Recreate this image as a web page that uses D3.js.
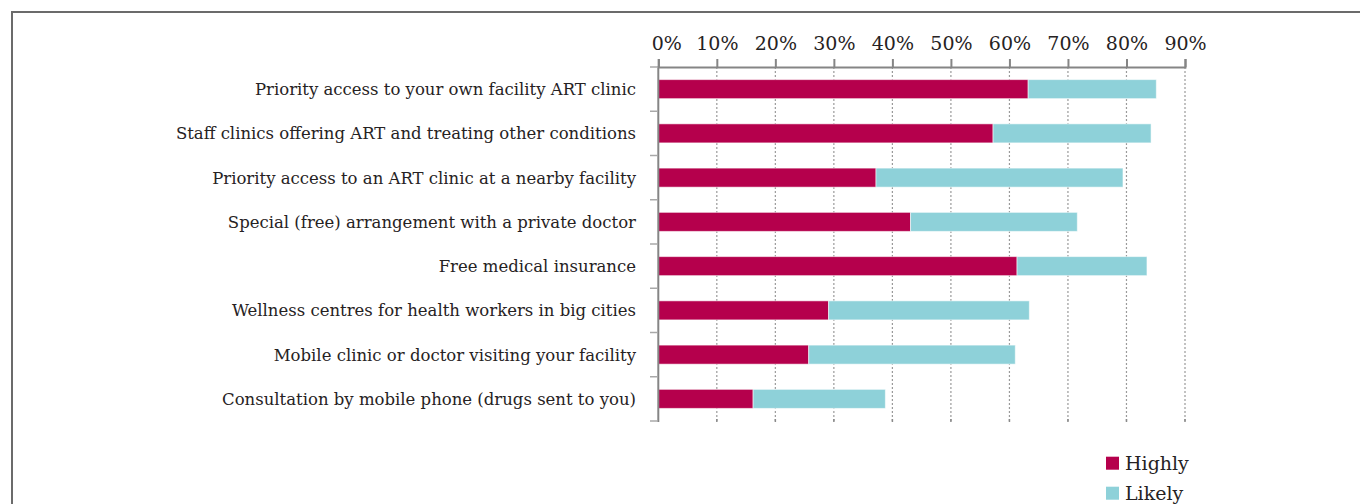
<!DOCTYPE html>
<html>
<head>
<meta charset="utf-8">
<script src="https://cdn.jsdelivr.net/npm/d3@7"></script>
<style>
  html, body { margin: 0; padding: 0; background: #fff; }
  svg { display: block; }
  text { font-family: "DejaVu Serif", serif; fill: #262223; }
</style>
</head>
<body>
<svg id="chart" width="1360" height="504"></svg>
<script>
const categories = [
  "Priority access to your own facility ART clinic",
  "Staff clinics offering ART and treating other conditions",
  "Priority access to an ART clinic at a nearby facility",
  "Special (free) arrangement with a private doctor",
  "Free medical insurance",
  "Wellness centres for health workers in big cities",
  "Mobile clinic or doctor visiting your facility",
  "Consultation by mobile phone (drugs sent to you)"
];
const highly = [63.2, 57.2, 37.2, 43.1, 61.3, 29.1, 25.7, 16.2];
const likely = [21.9, 27.0, 42.2, 28.5, 22.2, 34.3, 35.3, 22.6];
const seriesNames = ["Highly", "Likely"];
const seriesColors = ["#b5004c", "#8ed1d9"];
const tickValues = [0, 10, 20, 30, 40, 50, 60, 70, 80, 90];
const tickLabels = ["0%", "10%", "20%", "30%", "40%", "50%", "60%", "70%", "80%", "90%"];

const svg = d3.select("#chart");

// outer frame
svg.append("rect")
  .attr("x", 12).attr("y", 12)
  .attr("width", 1400).attr("height", 600)
  .attr("fill", "none").attr("stroke", "#6b6b6b").attr("stroke-width", 2);

const x = d3.scaleLinear().domain([0, 90]).range([658.3, 1185]);
const y = d3.scaleBand().domain(categories).range([67, 421])
  .paddingInner(0.57).paddingOuter(0.285);

// gridlines
svg.append("g").selectAll("line")
  .data(tickValues.slice(1))
  .join("line")
  .attr("x1", d => x(d)).attr("x2", d => x(d))
  .attr("y1", 67).attr("y2", 421)
  .attr("stroke", "#9a9a9a").attr("stroke-width", 1.2)
  .attr("stroke-dasharray", "2,2");

// bottom little marks
svg.append("g").selectAll("line")
  .data(tickValues.slice(1))
  .join("line")
  .attr("x1", d => x(d)).attr("x2", d => x(d))
  .attr("y1", 419).attr("y2", 422)
  .attr("stroke", "#8a8a8a").attr("stroke-width", 1.5);

// stacked data
const stackData = categories.map((c, i) => ({ cat: c, Highly: highly[i], Likely: likely[i] }));
const stack = d3.stack().keys(seriesNames)(stackData);
const color = d3.scaleOrdinal().domain(seriesNames).range(seriesColors);

svg.append("g").selectAll("g")
  .data(stack)
  .join("g")
  .attr("fill", d => color(d.key))
  .selectAll("rect")
  .data(d => d)
  .join("rect")
  .attr("x", d => x(d[0]))
  .attr("y", d => y(d.data.cat))
  .attr("width", d => x(d[1]) - x(d[0]))
  .attr("height", y.bandwidth())
  .attr("stroke", "rgba(255,255,255,0.55)")
  .attr("stroke-width", 1);

// top axis
const xAxis = d3.axisTop(x)
  .tickValues(tickValues)
  .tickFormat((d, i) => tickLabels[i])
  .tickSize(8)
  .tickPadding(9);
const gx = svg.append("g").attr("transform", "translate(0,67)").call(xAxis);
gx.select(".domain").attr("stroke", "#858585").attr("stroke-width", 2);
gx.selectAll(".tick line").attr("stroke", "#858585").attr("stroke-width", 2);
gx.selectAll(".tick text")
  .style("font-family", '"DejaVu Serif", serif')
  .style("font-size", "19px")
  .attr("fill", "#262223")
  .attr("dx", d => d === 0 ? 8 : 0);

// left axis line
svg.append("line")
  .attr("x1", 658.3).attr("x2", 658.3)
  .attr("y1", 66).attr("y2", 422)
  .attr("stroke", "#858585").attr("stroke-width", 2);

// category boundary ticks
const pad = (y.step() - y.bandwidth()) / 2;
const bounds = categories.map(c => y(c) - pad).concat([y(categories[categories.length - 1]) + y.bandwidth() + pad]);
svg.append("g").selectAll("line")
  .data(bounds)
  .join("line")
  .attr("x1", 650).attr("x2", 658)
  .attr("y1", d => d).attr("y2", d => d)
  .attr("stroke", "#a8a8a8").attr("stroke-width", 1.5);

// category labels
svg.append("g").selectAll("text")
  .data(categories)
  .join("text")
  .attr("x", 636)
  .attr("y", d => y(d) + y.bandwidth() / 2 + 6)
  .attr("text-anchor", "end")
  .style("font-size", "16.5px")
  .text(d => d);

// legend
const lg = svg.append("g").selectAll("g")
  .data(seriesNames)
  .join("g")
  .attr("transform", (d, i) => `translate(1106,${456.7 + i * 30})`);
lg.append("rect").attr("width", 13).attr("height", 13).attr("fill", d => color(d));
lg.append("text").attr("x", 19).attr("y", 13).style("font-size", "19px").text(d => d);
</script>
</body>
</html>
